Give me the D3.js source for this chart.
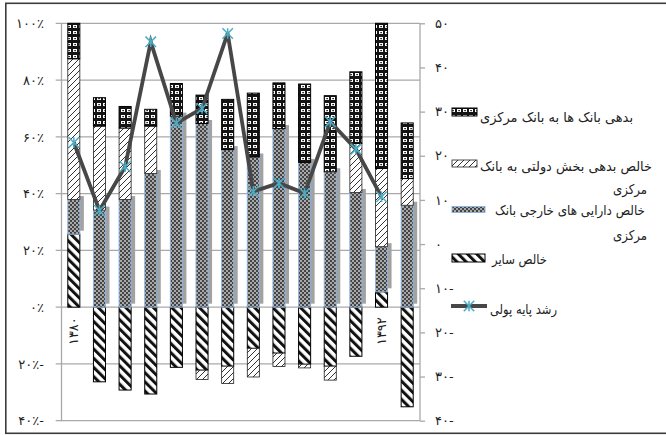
<!DOCTYPE html>
<html>
<head>
<meta charset="utf-8">
<script src="https://cdn.jsdelivr.net/npm/d3@7"></script>
<style>
  body { margin: 0; background: #fff; }
  svg { display: block; }
  text { font-family: "DejaVu Sans", sans-serif; fill: #222; }
</style>
</head>
<body>
<svg id="chart" width="666" height="435"></svg>
<script>
// ---- data -------------------------------------------------------------
const years = ["۱۳۸۰","۱۳۸۱","۱۳۸۲","۱۳۸۳","۱۳۸۴","۱۳۸۵","۱۳۸۶",
               "۱۳۸۷","۱۳۸۸","۱۳۸۹","۱۳۹۰","۱۳۹۱","۱۳۹۲","۱۳۹۳"];
const labelledYears = ["۱۳۸۰","۱۳۹۲"];

// contribution of each component (percent, left axis)
const otherNet      = [25.7,-26.3,-29.2,-30.6,-21.2,-22.2,-20.8,-14.5,-16.2,-20.1,-20.8,-17.3, 5.4,-35.1];
const foreignAssets = [12.2, 34.2, 37.9, 47.1, 67.3, 64.7, 55.5, 52.9, 62.9, 51.0, 47.7, 40.4,15.9, 35.9];
const govDebt       = [49.6, 29.6, 25.2, 16.7,  0.0, -3.3, -6.1,-10.1, -4.7, -1.3, -4.9, 17.3,27.6,  9.4];
const bankDebt      = [12.5, 10.0,  7.6,  5.9, 11.5, 10.0, 17.7, 22.5, 16.1, 27.6, 26.8, 25.2,51.1, 19.6];

// monetary base growth (right axis)
const baseGrowth    = [23.0, 7.6, 17.5, 45.8, 27.4, 30.7, 47.7, 11.9, 13.8, 11.5, 27.7, 21.5, 10.7, null];

const leftTicks       = [-40,-20,0,20,40,60,80,100];
const leftTickLabels  = ["۴۰٪-","۲۰٪-","۰٪","۲۰٪","۴۰٪","۶۰٪","۸۰٪","۱۰۰٪"];
const rightTicks      = [-40,-30,-20,-10,0,10,20,30,40,50];
const rightTickLabels = ["۴۰-","۳۰-","۲۰-","۱۰-","۰","۱۰","۲۰","۳۰","۴۰","۵۰"];

const seriesKeys  = ["other","foreign","gov","bank"];
const seriesNames = {
  bank:    "بدهی بانک ها به بانک مرکزی",
  gov:     "خالص بدهی بخش دولتی به بانک مرکزی",
  foreign: "خالص دارایی های خارجی بانک مرکزی",
  other:   "خالص سایر",
  growth:  "رشد پایه پولی"
};

// ---- setup ------------------------------------------------------------
const svg = d3.select("#chart");
const plot = { left: 61, right: 420, top: 23.3, bottom: 420.7 };

const x = d3.scaleBand().domain(years)
  .range([plot.left, plot.right]).paddingInner(0.53).paddingOuter(0.265);
const yL = d3.scaleLinear().domain([-40, 100]).range([plot.bottom, plot.top]);
const yR = d3.scaleLinear().domain([-40, 50]).range([plot.bottom, plot.top]);

// ---- fill patterns ------------------------------------------------------
const defs = svg.append("defs");

const pBank = defs.append("pattern").attr("id", "pBank")
  .attr("patternUnits", "userSpaceOnUse").attr("width", 6).attr("height", 6);
pBank.append("rect").attr("width", 6).attr("height", 6).attr("fill", "#141414");
pBank.append("rect").attr("x", 1).attr("y", 1).attr("width", 4).attr("height", 3).attr("fill", "#fff");
pBank.append("rect").attr("x", 2.3).attr("y", 2).attr("width", 1.6).attr("height", 1.2).attr("fill", "#141414");

const pGov = defs.append("pattern").attr("id", "pGov")
  .attr("patternUnits", "userSpaceOnUse").attr("width", 6).attr("height", 6);
pGov.append("rect").attr("width", 6).attr("height", 6).attr("fill", "#fff");
pGov.append("path").attr("d", "M-1,7 L7,-1 M-1,1 L1,-1 M5,7 L7,5")
  .attr("stroke", "#333").attr("stroke-width", 1).attr("fill", "none");

const pForeign = defs.append("pattern").attr("id", "pForeign")
  .attr("patternUnits", "userSpaceOnUse").attr("width", 4).attr("height", 4);
pForeign.append("rect").attr("width", 4).attr("height", 4).attr("fill", "#444");
pForeign.append("circle").attr("cx", 1).attr("cy", 1).attr("r", 0.95).attr("fill", "#d4d4d4");
pForeign.append("circle").attr("cx", 3).attr("cy", 3).attr("r", 0.95).attr("fill", "#d4d4d4");

const pOther = defs.append("pattern").attr("id", "pOther")
  .attr("patternUnits", "userSpaceOnUse").attr("width", 6.5).attr("height", 6.5)
  .attr("patternTransform", "rotate(-45)");
pOther.append("rect").attr("width", 6.5).attr("height", 6.5).attr("fill", "#fff");
pOther.append("rect").attr("width", 3).attr("height", 6.5).attr("fill", "#111");

const fills   = { bank: "url(#pBank)", gov: "url(#pGov)", foreign: "url(#pForeign)", other: "url(#pOther)" };
const strokes = { bank: "#000", gov: "#222", foreign: "#8db3e2", other: "#000" };
const strokeW = { bank: 1, gov: 0.8, foreign: 1, other: 1 };

// ---- outer frame --------------------------------------------------------
svg.append("rect").attr("x", 5.8).attr("y", 3.3).attr("width", 670).attr("height", 430)
  .attr("fill", "none").attr("stroke", "#3c3c3c").attr("stroke-width", 1.6);

// ---- grid & axes --------------------------------------------------------
const gridColor = "#a9a9a9";
svg.append("g").selectAll("line").data(leftTicks).join("line")
  .attr("x1", plot.left - 5.3).attr("x2", plot.right)
  .attr("y1", d => yL(d)).attr("y2", d => yL(d))
  .attr("stroke", gridColor).attr("stroke-width", 1.3);

const leftAxis = svg.append("g").attr("transform", `translate(${plot.left},0)`)
  .call(d3.axisLeft(yL).tickValues(leftTicks).tickSize(0).tickPadding(17)
        .tickFormat((d, i) => leftTickLabels[i]));
leftAxis.select(".domain").attr("stroke", gridColor).attr("stroke-width", 1.3);
leftAxis.selectAll("text").attr("font-size", 13).attr("fill", "#222")
  .style("font-family", "DejaVu Sans");

const rightAxis = svg.append("g").attr("transform", `translate(${plot.right},0)`)
  .call(d3.axisRight(yR).tickValues(rightTicks).tickSize(5).tickPadding(10)
        .tickFormat((d, i) => rightTickLabels[i]));
rightAxis.select(".domain").attr("stroke", gridColor).attr("stroke-width", 1.3)
  .attr("d", `M0,${plot.top}V${plot.bottom}`);
rightAxis.selectAll(".tick line").attr("stroke", gridColor).attr("stroke-width", 1.3);
rightAxis.selectAll("text").attr("font-size", 13).attr("fill", "#222")
  .style("font-family", "DejaVu Sans");

// ---- stacked bars -------------------------------------------------------
const rows = years.map((yr, i) => ({
  year: yr, other: otherNet[i], foreign: foreignAssets[i], gov: govDebt[i], bank: bankDebt[i]
}));
const stacked = d3.stack().keys(seriesKeys).offset(d3.stackOffsetDiverging)(rows);

const segs = s => s.filter(d => d[1] !== d[0]);

// soft shadow behind the foreign-assets series
const foreignLayer = stacked.find(s => s.key === "foreign");
svg.append("g").attr("transform", "translate(4,-3.5)")
  .selectAll("rect").data(segs(foreignLayer)).join("rect")
  .attr("x", d => x(d.data.year)).attr("width", x.bandwidth())
  .attr("y", d => yL(Math.max(d[0], d[1])))
  .attr("height", d => Math.abs(yL(d[0]) - yL(d[1])))
  .attr("fill", "#a2a2a2");

svg.append("g").selectAll("g").data(stacked).join("g")
  .each(function(layer) {
    d3.select(this).selectAll("rect").data(segs(layer)).join("rect")
      .attr("x", d => x(d.data.year)).attr("width", x.bandwidth())
      .attr("y", d => yL(Math.max(d[0], d[1])))
      .attr("height", d => Math.abs(yL(d[0]) - yL(d[1])))
      .attr("fill", fills[layer.key])
      .attr("stroke", strokes[layer.key])
      .attr("stroke-width", strokeW[layer.key]);
  });

// ---- category labels ----------------------------------------------------
svg.append("g").selectAll("text").data(labelledYears).join("text")
  .attr("transform", d => `translate(${x(d) + x.bandwidth() / 2},${yL(0) + 10}) rotate(-90)`)
  .attr("text-anchor", "end").attr("dominant-baseline", "central")
  .attr("font-size", 13)
  .text(d => d);

// ---- growth line --------------------------------------------------------
const cx = i => x(years[i]) + x.bandwidth() / 2;
const line = d3.line().defined(d => d !== null).x((d, i) => cx(i)).y(d => yR(d));
svg.append("path").datum(baseGrowth).attr("d", line)
  .attr("fill", "none").attr("stroke", "#474747").attr("stroke-width", 3.8)
  .attr("stroke-linejoin", "miter");

const starSymbol = {
  draw(ctx, size) {
    const r = Math.sqrt(size) / 2;
    ctx.moveTo(-r, -r); ctx.lineTo(r, r);
    ctx.moveTo(-r, r);  ctx.lineTo(r, -r);
    ctx.moveTo(0, -r);  ctx.lineTo(0, r);
  }
};
const star = d3.symbol().type(starSymbol).size(110);
svg.append("g").selectAll("path")
  .data(baseGrowth.map((v, i) => ({ v, i })).filter(d => d.v !== null))
  .join("path")
  .attr("transform", d => `translate(${cx(d.i)},${yR(d.v)})`)
  .attr("d", star).attr("fill", "none")
  .attr("stroke", "#4bacc6").attr("stroke-width", 1.5);

// ---- legend -------------------------------------------------------------
// each text line is laid out in a box [left, right] and fitted to it
const legend = svg.append("g");
const legendFont = 13.5;
const legendRows = [
  { key: "bank",    sw: [452, 108, 25, 8],   lines: [{ t: "بدهی بانک ها به بانک مرکزی", l: 480, r: 633, y: 117 }] },
  { key: "gov",     sw: [452, 160, 25, 7],   lines: [{ t: "خالص بدهی بخش دولتی به بانک", l: 480, r: 652, y: 165.5 },
                                                    { t: "مرکزی", l: 613, r: 647, y: 189 }] },
  { key: "foreign", sw: [452, 206.5, 33, 6], lines: [{ t: "خالص دارایی های خارجی بانک", l: 495, r: 645, y: 210 },
                                                    { t: "مرکزی", l: 613, r: 647, y: 235 }] },
  { key: "other",   sw: [452, 254, 33, 8],   lines: [{ t: "خالص سایر", l: 492, r: 547, y: 259 }] },
  { key: "growth",  sw: null,                lines: [{ t: "رشد پایه پولی", l: 490, r: 557, y: 309 }] }
];
legendRows.forEach(r => {
  if (r.sw) {
    legend.append("rect").attr("x", r.sw[0]).attr("y", r.sw[1]).attr("width", r.sw[2]).attr("height", r.sw[3])
      .attr("fill", fills[r.key]).attr("stroke", strokes[r.key]).attr("stroke-width", strokeW[r.key]);
  }
  r.lines.forEach(l => legend.append("text").attr("x", l.l).attr("y", l.y)
    .attr("dominant-baseline", "central")
    .attr("font-size", legendFont)
    .attr("textLength", l.r - l.l).attr("lengthAdjust", "spacingAndGlyphs")
    .text(l.t));
});
legend.append("line").attr("x1", 451).attr("x2", 487).attr("y1", 306).attr("y2", 306)
  .attr("stroke", "#474747").attr("stroke-width", 3.8);
legend.append("path").attr("transform", "translate(469,306)").attr("d", star)
  .attr("fill", "none").attr("stroke", "#4bacc6").attr("stroke-width", 1.5);
</script>
</body>
</html>
